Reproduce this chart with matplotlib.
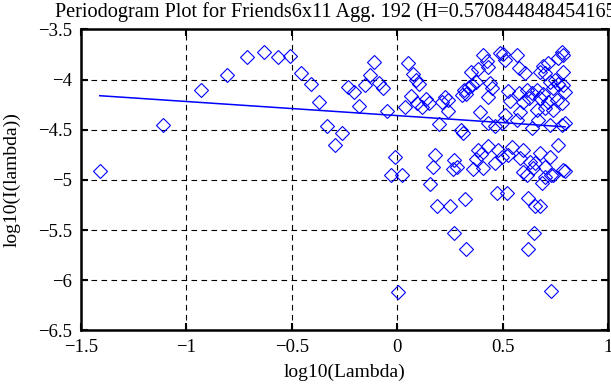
import matplotlib
matplotlib.use('Agg')
import matplotlib.pyplot as plt

plt.rcParams['font.family'] = ['Liberation Serif', 'DejaVu Serif']

# log10(lambda) of each periodogram point
log_lambda = [
    -1.41, -1.109, -0.93, -0.809, -0.711, -0.630, -0.567, -0.507, -0.458, -0.410,
    -0.370, -0.332, -0.296, -0.264, -0.234, -0.206, -0.180, -0.155, -0.131, -0.109,
    -0.088, -0.068, -0.048, -0.030, -0.012, 0.005, 0.021,
    0.050, 0.074, 0.087, 0.103, 0.066, 0.093, 0.038, 0.118, 0.137, 0.150,
    0.169, 0.153, 0.177, 0.188,
    0.200, 0.224, 0.213, 0.240, 0.240, 0.251, 0.268, 0.271, 0.263, 0.284,
    0.300, 0.311, 0.319, 0.315, 0.326, 0.308, 0.347, 0.355, 0.374, 0.342,
    0.394, 0.374, 0.358, 0.382, 0.397, 0.327,
    0.408, 0.487, 0.503, 0.566, 0.424, 0.510, 0.577, 0.384, 0.431, 0.605,
    0.439, 0.450, 0.431, 0.526, 0.534, 0.577, 0.613, 0.624, 0.597, 0.582,
    0.510, 0.463, 0.566, 0.495, 0.431, 0.431, 0.479, 0.542, 0.597, 0.495,
    0.526, 0.582, 0.629, 0.597, 0.613, 0.463, 0.408,
    0.473, 0.522, 0.621, 0.621, 0.646, 0.654, 0.676, 0.684, 0.728, 0.796, 0.728,
    0.779, 0.787, 0.763, 0.716, 0.692, 0.787, 0.700, 0.676, 0.724, 0.747,
    0.763, 0.787, 0.740, 0.795, 0.661, 0.637, 0.692, 0.676, 0.716, 0.755,
    0.779, 0.700, 0.740, 0.661, 0.779, 0.795, 0.724, 0.668, 0.637, 0.763,
    0.676, 0.724, 0.653, 0.700, 0.645, 0.787, 0.740, 0.700,
]
log_I = [
    -4.906, -4.448, -4.10, -3.95, -3.77, -3.727, -3.774, -3.767, -3.93, -4.046,
    -4.222, -4.458, -4.654, -4.528, -4.073, -4.123, -4.262, -4.056, -3.957, -3.827,
    -4.033, -4.080, -4.316, -4.947, -4.771, -6.116, -4.95,
    -3.831, -3.940, -4.000, -4.040, -4.166, -4.229, -4.272, -4.272, -4.189, -4.233,
    -4.870, -5.043, -4.754, -5.259,
    -4.439, -4.173, -4.223, -4.206, -4.312, -5.259, -5.528, -4.804, -4.887, -4.870,
    -4.498, -4.532, -5.186, -4.106, -4.146, -4.156, -3.924, -4.056, -4.023, -4.073,
    -4.322, -4.787, -4.887, -4.704, -4.744, -5.69,
    -3.754, -3.737, -3.744, -3.754, -3.810, -3.804, -3.887, -3.897, -3.870, -3.937,
    -4.036, -4.086, -4.176, -4.109, -4.209, -4.136, -4.103, -4.186, -4.219, -4.318,
    -4.352, -4.461, -4.401, -4.435, -4.435, -4.660, -4.700, -4.667, -4.700, -4.767,
    -4.750, -4.783, -4.816, -4.916, -4.949, -4.833, -4.883,
    -5.125, -5.125, -5.18, -5.69, -5.524, -5.26, -5.26, -5.03, -6.11, -4.906, -4.95,
    -3.721, -3.754, -3.787, -3.837, -3.864, -3.920, -3.937, -3.920, -4.020, -4.003,
    -4.043, -4.053, -4.086, -4.119, -4.103, -4.136, -4.142, -4.186, -4.219, -4.202,
    -4.235, -4.285, -4.302, -4.302, -4.451, -4.435, -4.451, -4.401, -4.484, -4.650,
    -4.733, -4.767, -4.833, -4.866, -4.883, -4.899, -4.949, -4.966,
]

# least squares line as drawn in the picture
fit_x = [-1.41, 0.795]
fit_y = [-4.16, -4.47]

title = 'Periodogram Plot for Friends6x11 Agg. 192 (H=0.570844848454165)'

fig = plt.figure(figsize=(6.11, 3.85), dpi=100)
ax = fig.add_axes([0.1322, 0.1416, 0.8634, 0.7818])

ax.plot(log_lambda, log_I, 'D', markersize=7.4, markerfacecolor='none',
        markeredgecolor='#0000ff', markeredgewidth=0.8, clip_on=False)
ax.plot(fit_x, fit_y, '-', color='#0000ff', linewidth=1.1)

ax.set_xlim(-1.5, 1)
ax.set_ylim(-6.5, -3.5)
ax.set_xticks([-1.5, -1, -0.5, 0, 0.5, 1])
ax.set_xticklabels(['\u22121.5', '\u22121', '\u22120.5', '0', '0.5', '1'])
ax.set_yticks([-6.5, -6, -5.5, -5, -4.5, -4, -3.5])
ax.set_yticklabels(['\u22126.5', '\u22126', '\u22125.5', '\u22125', '\u22124.5', '\u22124', '\u22123.5'])
ax.grid(True, color='black', linestyle=(0, (5, 4)), linewidth=0.8)
ax.tick_params(direction='in', length=5, width=1.5, top=True, right=True,
               labelsize=13.5, pad=6)
for s in ax.spines.values():
    s.set_linewidth(1.8)

ax.set_xlabel('log10(Lambda)', fontsize=14, labelpad=6)
ax.set_ylabel('log10(I(lambda))', fontsize=14, labelpad=13)

# title is wider than the figure and runs off the right edge, as in the original
fig.text(55 / 611, 1 - 17 / 385, title, fontsize=14.6, ha='left', va='baseline')

fig.savefig('out.png', dpi=100)
